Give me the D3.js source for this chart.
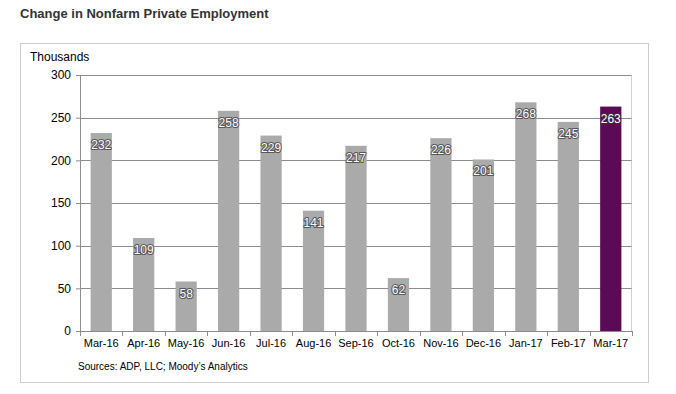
<!DOCTYPE html>
<html>
<head>
<meta charset="utf-8">
<script src="https://cdn.jsdelivr.net/npm/d3@7.9.0/dist/d3.min.js"></script>
<style>
  body { margin: 0; background: #fff; }
  svg { font-family: Arial, "Liberation Sans", sans-serif; }
</style>
</head>
<body>
<svg width="676" height="394"></svg>
<script>
const months = ["Mar-16", "Apr-16", "May-16", "Jun-16", "Jul-16", "Aug-16", "Sep-16",
                "Oct-16", "Nov-16", "Dec-16", "Jan-17", "Feb-17", "Mar-17"];
const values = [232, 109, 58, 258, 229, 141, 217, 62, 226, 201, 268, 245, 263];
const yTicks = [0, 50, 100, 150, 200, 250, 300];

const svg = d3.select("svg"),
      margin = {top: 75, right: 44, bottom: 63, left: 80},
      width = +svg.attr("width") - margin.left - margin.right,
      height = +svg.attr("height") - margin.top - margin.bottom;

// title
svg.append("text")
  .attr("x", 20).attr("y", 18)
  .attr("font-size", 13).attr("font-weight", "bold")
  .attr("fill", "#333")
  .text("Change in Nonfarm Private Employment");

// outer frame
svg.append("rect")
  .attr("x", 20.5).attr("y", 43.5)
  .attr("width", 628).attr("height", 339)
  .attr("fill", "none").attr("stroke", "#ccc");

const g = svg.append("g").attr("transform", `translate(${margin.left},${margin.top})`);

const x = d3.scaleBand().domain(months).range([0, width]).paddingInner(0.5).paddingOuter(0.25);
const y = d3.scaleLinear().domain([0, 300]).range([height, 0]);

// plot area border (top & right)
g.append("path")
  .attr("d", `M0,0.5H${width - 0.5}V${height}`)
  .attr("fill", "none").attr("stroke", "#d0d0d0");

// gridlines
g.selectAll(".grid").data(yTicks.filter(d => d > 0))
  .join("line")
  .attr("x1", 0).attr("x2", width - 0.5)
  .attr("y1", d => Math.round(y(d)) + 0.5).attr("y2", d => Math.round(y(d)) + 0.5)
  .attr("stroke", "#8c8c8c");

// bars
g.selectAll(".bar").data(values)
  .join("rect")
  .attr("x", (d, i) => x(months[i]))
  .attr("y", d => y(d))
  .attr("width", x.bandwidth())
  .attr("height", d => height - y(d))
  .attr("fill", (d, i) => i === values.length - 1 ? "#5b0a55" : "#aaaaaa");

// value labels (white with dark halo)
g.selectAll(".lbl").data(values)
  .join("text")
  .attr("x", (d, i) => x(months[i]) + x.bandwidth() / 2)
  .attr("y", d => y(d) + 16)
  .attr("text-anchor", "middle")
  .attr("font-size", 12)
  .attr("fill", "#fff")
  .attr("stroke", "#333").attr("stroke-width", 2.2).attr("stroke-opacity", 0.7)
  .attr("stroke-linejoin", "round")
  .attr("paint-order", "stroke")
  .text(d => d);

// y axis
const yAxis = g.append("g")
  .call(d3.axisLeft(y).tickValues(yTicks).tickSize(4).tickPadding(5));
yAxis.select(".domain").attr("stroke", "#8c8c8c");
yAxis.selectAll(".tick line").attr("stroke", "#8c8c8c");
yAxis.selectAll(".tick text").attr("font-size", 12).attr("fill", "#000")
  .attr("font-family", "Arial, 'Liberation Sans', sans-serif");

// x axis
const xAxis = g.append("g").attr("transform", `translate(0,${height})`)
  .call(d3.axisBottom(x).tickSize(0).tickPadding(8));
xAxis.select(".domain").attr("stroke", "#8c8c8c");
xAxis.selectAll(".tick text").attr("font-size", 11).attr("fill", "#000")
  .attr("font-family", "Arial, 'Liberation Sans', sans-serif");

// x ticks at band boundaries
const step = x.step();
g.selectAll(".xt").data(d3.range(months.length + 1))
  .join("line")
  .attr("x1", i => Math.round(i * step) + 0.5).attr("x2", i => Math.round(i * step) + 0.5)
  .attr("y1", height).attr("y2", height + 5)
  .attr("stroke", "#8c8c8c");

svg.append("text")
  .attr("x", 30).attr("y", 61)
  .attr("font-size", 12).attr("fill", "#000")
  .text("Thousands");

svg.append("text")
  .attr("x", 78).attr("y", 370)
  .attr("font-size", 10).attr("fill", "#000")
  .text("Sources: ADP, LLC; Moody\u2019s Analytics");
</script>
</body>
</html>
